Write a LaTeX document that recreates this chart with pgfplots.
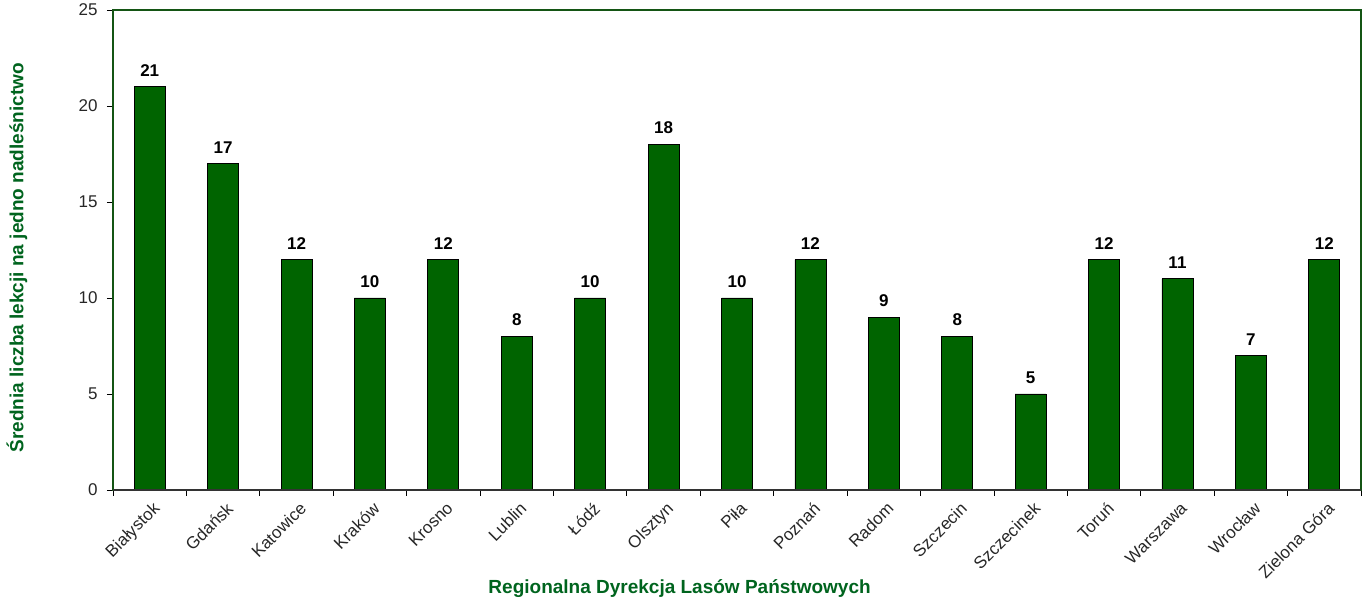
\documentclass[border=0pt]{standalone}
\usepackage{pgfplots}
\pgfplotsset{compat=1.18}
\usepackage{fontspec}
\setmainfont{Liberation Sans}
\definecolor{bargreen}{RGB}{0,100,0}
\definecolor{txtgreen}{RGB}{0,100,30}
\definecolor{framegreen}{RGB}{20,85,20}
\begin{document}
\begin{tikzpicture}[x=1pt,y=1pt]
\path (-113,-112) rectangle (1253,490);
\begin{axis}[
 at={(0,0)}, anchor=south west,
 scale only axis, width=1248pt, height=480pt,
 ymin=0, ymax=25, ytick={0,5,...,25},
 xmin=-0.5, xmax=16.5,
 xtick={0,...,16},
 xticklabels={Białystok,Gdańsk,Katowice,Kraków,Krosno,Lublin,Łódź,Olsztyn,Piła,Poznań,Radom,Szczecin,Szczecinek,Toruń,Warszawa,Wrocław,Zielona Góra},
 minor xtick={-0.5,0.5,...,16.5},
 major x tick style={draw=none},
 xtick pos=bottom, ytick pos=left,
 tick align=outside,
 tick style={black, line width=0.8pt},
 major tick length=6pt, minor tick length=6pt,
 axis line style={framegreen, line width=1.5pt},
 /pgf/number format/assume math mode=true,
 yticklabel style={font=\fontsize{17}{19}\selectfont, text=black!85, xshift=-6pt},
 xticklabel style={rotate=45, anchor=north east, font=\fontsize{17}{19}\selectfont, text=black!85, inner sep=2pt, yshift=-3pt},
 ylabel={Średnia liczba lekcji na jedno nadleśnictwo},
 xlabel={Regionalna Dyrekcja Lasów Państwowych},
 ylabel style={at={(axis description cs:-0.077,0.484)}, anchor=center, font=\bfseries\fontsize{19}{21}\selectfont, text=txtgreen},
 xlabel style={at={(axis description cs:0.454,-0.206)}, anchor=center, font=\bfseries\fontsize{19}{21}\selectfont, text=txtgreen},
 ybar, bar width=31pt,
 nodes near coords,
 every node near coord/.append style={font=\bfseries\fontsize{17}{19}\selectfont, black, inner sep=5pt, yshift=5pt},
 clip=false,
]
\addplot[fill=bargreen, draw=black, line width=0.8pt] coordinates {
(0,21) (1,17) (2,12) (3,10) (4,12) (5,8) (6,10) (7,18) (8,10) (9,12) (10,9) (11,8) (12,5) (13,12) (14,11) (15,7) (16,12)};
\draw[black!80, line width=1.5pt] (rel axis cs:0,0) -- (rel axis cs:1,0);
\end{axis}
\end{tikzpicture}
\end{document}
